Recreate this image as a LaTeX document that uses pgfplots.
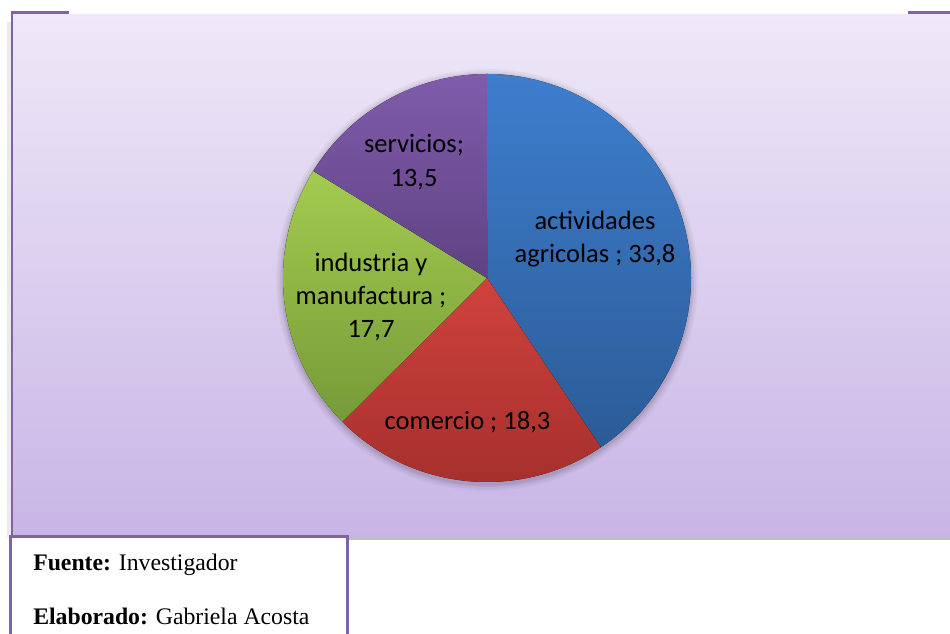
\documentclass[border=0pt]{standalone}
\usepackage{pgfplots}
\pgfplotsset{compat=1.18}
\usepackage{pgfplotstable}
\usepackage{fontspec}
\setmainfont{Liberation Serif}
\newfontfamily\calib{Carlito}

\definecolor{bgT}{HTML}{EEE8F7}
\definecolor{bgB}{HTML}{C8B5E6}
\definecolor{frame}{HTML}{8064A2}
\definecolor{blueT}{HTML}{3D7ECD}
\definecolor{blueB}{HTML}{2C5B97}
\definecolor{redT}{HTML}{D0423E}
\definecolor{redB}{HTML}{A22E2B}
\definecolor{greenT}{HTML}{A3CB4F}
\definecolor{greenB}{HTML}{769A38}
\definecolor{purpT}{HTML}{805CAC}
\definecolor{purpB}{HTML}{5F4283}

\pgfplotstableread{
label value
actividades 33.8
comercio 18.3
industria 17.7
servicios 13.5
}\piedata

\begin{document}
\begin{tikzpicture}
\clip (0,0) rectangle (712.5pt,475.5pt);
\pgfplotstablegetelem{0}{value}\of\piedata \pgfmathsetmacro\vA{\pgfplotsretval}
\pgfplotstablegetelem{1}{value}\of\piedata \pgfmathsetmacro\vB{\pgfplotsretval}
\pgfplotstablegetelem{2}{value}\of\piedata \pgfmathsetmacro\vC{\pgfplotsretval}
\pgfplotstablegetelem{3}{value}\of\piedata \pgfmathsetmacro\vD{\pgfplotsretval}
\pgfmathsetmacro\tot{\vA+\vB+\vC+\vD}
\pgfmathsetmacro\aA{90}
\pgfmathsetmacro\aB{\aA-\vA/\tot*360}
\pgfmathsetmacro\aC{\aB-\vB/\tot*360}
\pgfmathsetmacro\aD{\aC-\vC/\tot*360}
\pgfmathsetmacro\aE{\aD-\vD/\tot*360}

\begin{scope}[x=0.75pt,y=0.75pt]
\fill[white] (0,0) rectangle (950,634);
% left shadow
\fill[black!8] (7,97) rectangle (11,612);
% background
\shade[top color=bgT, bottom color=bgB] (12,97) rectangle (950,619);
% bottom shadow
\fill[black!25] (349,94) rectangle (950,97);
% frame lines
\draw[frame, line width=2.2pt] (12,97) -- (12,621.5) -- (69,621.5);
\draw[frame, line width=2.2pt] (908,621.5) -- (950,621.5);
% pie soft shadow
\foreach \r/\o in {211/0.03,209/0.04,207/0.05,205.5/0.06}{
  \fill[black, opacity=\o] (487,354) circle[radius=\r];
}
\end{scope}

\begin{axis}[
  hide axis, scale only axis, clip=false,
  width=306pt, height=306pt,
  xmin=-1, xmax=1, ymin=-1, ymax=1,
  at={(365.25pt,267pt)}, anchor=center]
\fill[top color=blueT, bottom color=blueB] (axis cs:0,0) -- (axis cs:{cos(\aA)},{sin(\aA)}) arc[start angle=\aA, end angle=\aB, radius=153pt] -- cycle;
\fill[top color=redT, bottom color=redB] (axis cs:0,0) -- (axis cs:{cos(\aB)},{sin(\aB)}) arc[start angle=\aB, end angle=\aC, radius=153pt] -- cycle;
\fill[top color=greenT, bottom color=greenB] (axis cs:0,0) -- (axis cs:{cos(\aC)},{sin(\aC)}) arc[start angle=\aC, end angle=\aD, radius=153pt] -- cycle;
\fill[top color=purpT, bottom color=purpB] (axis cs:0,0) -- (axis cs:{cos(\aD)},{sin(\aD)}) arc[start angle=\aD, end angle=\aE, radius=153pt] -- cycle;
\end{axis}

\begin{scope}[x=0.75pt,y=0.75pt]
\begin{scope}[every node/.style={anchor=base, inner sep=0pt, font=\calib\fontsize{19.9}{23}\selectfont}]
\node at (595,404) {actividades};
\node at (595,371) {agricolas ; 33,8};
\node at (414,481) {servicios;};
\node at (414,447) {13,5};
\node at (371,362) {industria y};
\node at (371,329) {manufactura ;};
\node at (371,296) {17,7};
\node at (467.5,204) {comercio ; 18,3};
\end{scope}
% source box
\fill[white] (10.5,-5) rectangle (347.5,97.5);
\draw[frame, line width=2.3pt] (10.5,-5) -- (10.5,97.5) -- (347.5,97.5) -- (347.5,-5);
\begin{scope}[every node/.style={anchor=base west, inner sep=0pt, font=\fontsize{17.8}{20}\selectfont}]
\node at (33,63) {\textbf{Fuente:} Investigador};
\node at (33,9) {\textbf{Elaborado:} Gabriela Acosta};
\end{scope}
\end{scope}
\end{tikzpicture}
\end{document}
